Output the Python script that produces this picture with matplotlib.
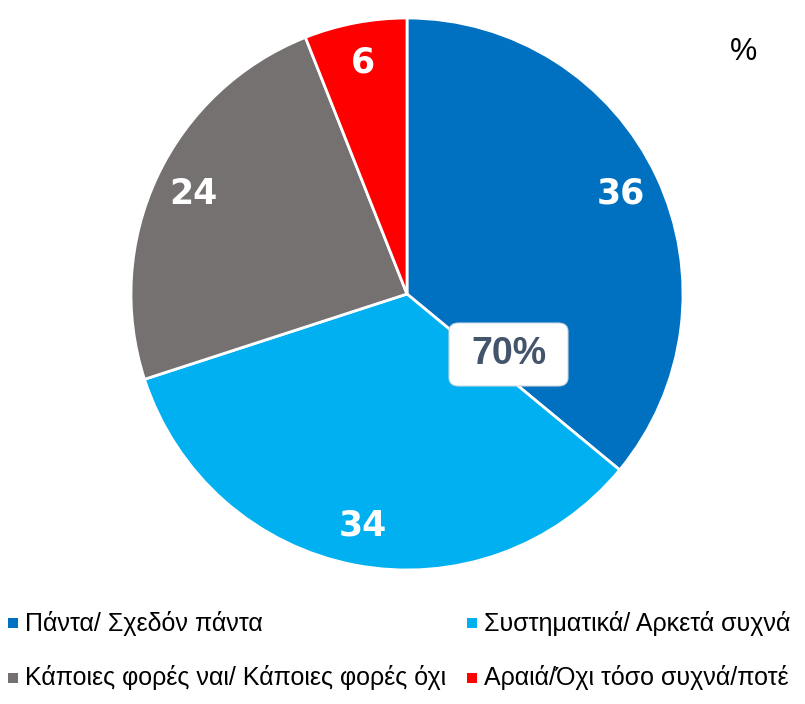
import matplotlib
matplotlib.use("Agg")
import matplotlib.pyplot as plt
from matplotlib.patches import FancyBboxPatch, Rectangle

plt.rcParams['font.family'] = ['Liberation Sans', 'DejaVu Sans']

categories = ["Πάντα/ Σχεδόν πάντα", "Συστηματικά/ Αρκετά συχνά",
              "Κάποιες φορές ναι/ Κάποιες φορές όχι", "Αραιά/Όχι τόσο συχνά/ποτέ"]
values = [36, 34, 24, 6]
colors = ["#0070C0", "#00B0F0", "#767171", "#FF0000"]
combined_label = "70%"

fig = plt.figure(figsize=(8.05, 7.04), dpi=100)
W, H = 805, 704
cx, cy, r = 407, 294, 276
ax = fig.add_axes([(cx - r) / W, 1 - (cy + r) / H, 2 * r / W, 2 * r / H])
wedges, texts = ax.pie(values, colors=colors, startangle=90, counterclock=False,
                       labels=[str(v) for v in values], labeldistance=0.855,
                       wedgeprops=dict(edgecolor="white", linewidth=2),
                       textprops=dict(color="white", fontsize=25, fontweight="bold",
                                      family="DejaVu Sans",
                                      ha="center", va="center"))
ax.set_xlim(-1, 1)
ax.set_ylim(-1, 1)
ax.set_aspect("equal")

# combined label box
bx0, by0, bx1, by1 = 449, 323, 568, 386
box = FancyBboxPatch(((bx0) / W, 1 - by1 / H), (bx1 - bx0) / W, (by1 - by0) / H,
                     boxstyle="round,pad=0,rounding_size=0.012",
                     transform=fig.transFigure, facecolor="white",
                     edgecolor="#D0D8E0", linewidth=0.8, zorder=5)
fig.patches.append(box)
fig.text((bx0 + bx1) / 2 / W + 0.5 / W, 1 - (by0 + by1) / 2 / H, combined_label,
         ha="center", va="center", fontsize=27, fontweight="bold",
         color="#44546A", zorder=6)

fig.text(743 / W, 1 - 52 / H, "%", ha="center", va="center", fontsize=22, color="black")

# legend
pos = [(8, 623), (467, 623), (8, 678), (467, 678)]
for (x, y), lab, col in zip(pos, categories, colors):
    s = 10
    fig.patches.append(Rectangle((x / W, 1 - (y + s / 2) / H), s / W, s / H,
                                 transform=fig.transFigure, facecolor=col,
                                 edgecolor="none"))
    fig.text((x + 17) / W, 1 - y / H, lab, ha="left", va="center",
             fontsize=18, color="black")

fig.savefig("out.png", dpi=100)
